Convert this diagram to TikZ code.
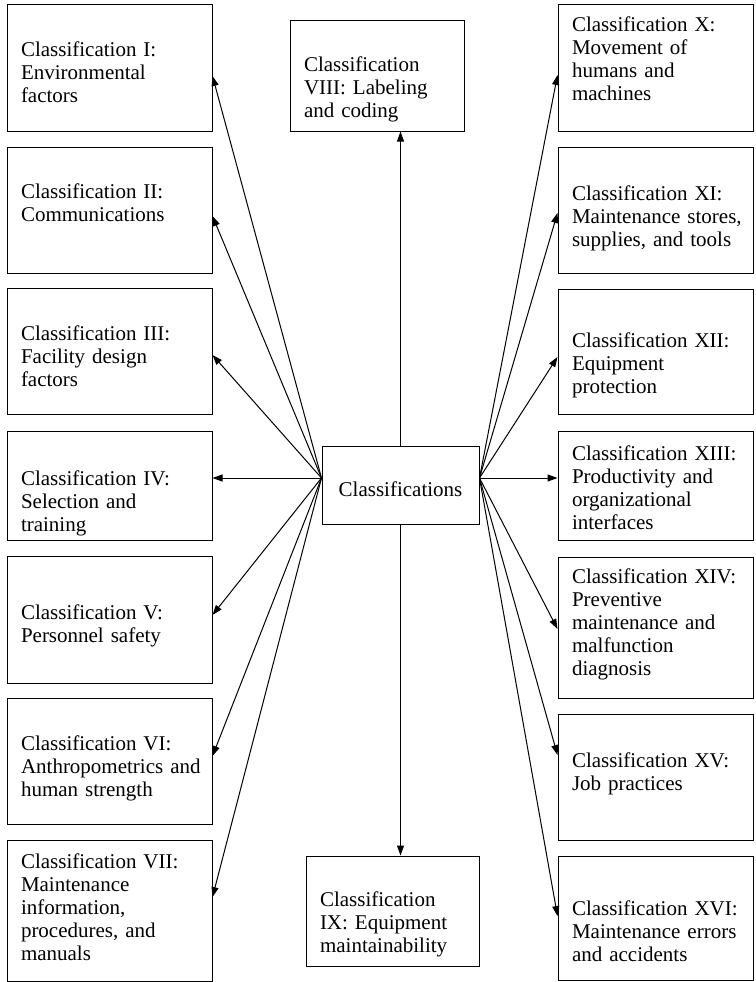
\documentclass[tikz,border=0pt]{standalone}
\usepackage{fontspec}
\setmainfont{Liberation Serif}
\usetikzlibrary{arrows.meta,calc}
\begin{document}
\begin{tikzpicture}[x=1pt,y=-1pt,
  box/.style={draw, line width=1pt, rectangle, inner xsep=14pt, inner ysep=0pt,
              align=left, font=\fontsize{21}{23}\selectfont},
  lbox/.style={box, minimum width=205pt, text width=177pt},
  rbox/.style={box, minimum width=195pt, text width=167pt},
  % fixed text height/depth place the first baseline inside the box
  tpos/.style 2 args={text height=#1pt, text depth=#2pt},
  link/.style={line width=1pt, -{Triangle[length=10pt,width=7pt]}}]
\useasboundingbox (0,0) rectangle (755,982);

% hub
\node[box, minimum width=157pt, minimum height=78pt, align=center, tpos={41.7}{18.3}] (c) at (400.5,485) {Classifications};

% left column
\node[lbox, minimum height=126pt, tpos={38.7}{61.3}] (b1) at (109.5,68)    {Classification I:\\Environmental\\factors};
\node[lbox, minimum height=126pt, tpos={38.5}{61.5}] (b2) at (109.5,210)   {Classification II:\\Communications};
\node[lbox, minimum height=126pt, tpos={39}{61}]     (b3) at (109.5,351)   {Classification III:\\Facility design\\factors};
\node[lbox, minimum height=109pt, tpos={50}{50}]     (b4) at (109.5,485.5) {Classification IV:\\Selection and\\training};
\node[lbox, minimum height=127pt, tpos={49.5}{50.5}] (b5) at (109.5,619.5) {Classification V:\\Personnel safety};
\node[lbox, minimum height=126pt, tpos={39}{61}]     (b6) at (109.5,761)   {Classification VI:\\Anthropometrics~and\\human strength};
\node[lbox, minimum height=141pt, tpos={7.5}{92.5}]  (b7) at (109.5,910.5) {Classification VII:\\Maintenance\\information,\\procedures, and\\manuals};

% middle column
\node[box, minimum width=174pt, minimum height=110pt, text width=146pt, tpos={45.7}{54.3}] (b8) at (377,76)    {Classification\\VIII: Labeling\\and coding};
\node[box, minimum width=173pt, minimum height=110pt, text width=145pt, tpos={45.7}{54.3}] (b9) at (392.5,911) {Classification\\IX: Equipment\\maintainability};

% right column
\node[rbox, minimum height=126pt, tpos={14}{86}]     (b10) at (655.5,68)    {Classification X:\\Movement of\\humans and\\machines};
\node[rbox, minimum height=126pt, tpos={40.7}{59.3}] (b11) at (655.5,210)   {Classification XI:\\Maintenance~stores,\\supplies, and tools};
\node[rbox, minimum height=125pt, tpos={45.8}{54.2}] (b12) at (655.5,351.5) {Classification XII:\\Equipment\\protection};
\node[rbox, minimum height=109pt, tpos={24.5}{75.5}] (b13) at (655.5,485.5) {Classification XIII:\\Productivity and\\organizational\\interfaces};
\node[rbox, minimum height=141pt, tpos={5.5}{94.5}]  (b14) at (655.5,627.5) {Classification XIV:\\Preventive\\maintenance and\\malfunction\\diagnosis};
\node[rbox, minimum height=126pt, tpos={40}{60}]     (b15) at (655.5,777)   {Classification XV:\\Job practices};
\node[rbox, minimum height=124pt, tpos={47}{53}]     (b16) at (655.5,918)   {Classification XVI:\\Maintenance errors\\and accidents};

% connectors fan out from two points on the hub's sides
\coordinate (hl) at ([yshift=7pt]c.west);
\coordinate (hr) at ([yshift=7pt]c.east);

\draw[link] (hl) -- ([yshift=-8pt]b1.east);
\draw[link] (hl) -- ([yshift=-6pt]b2.east);
\draw[link] (hl) -- ([yshift=-4pt]b3.east);
\draw[link] (hl) -- ([yshift=7.5pt]b4.east);
\draw[link] (hl) -- ([yshift=4.5pt]b5.east);
\draw[link] (hl) -- ([yshift=5pt]b6.east);
\draw[link] (hl) -- ([yshift=13.5pt]b7.east);

\draw[link] (hr) -- ([yshift=-7pt]b10.west);
\draw[link] (hr) -- ([yshift=-3pt]b11.west);
\draw[link] (hr) -- ([yshift=-5.5pt]b12.west);
\draw[link] (hr) -- ([yshift=7.5pt]b13.west);
\draw[link] (hr) -- ([yshift=-1.5pt]b14.west);
\draw[link] (hr) -- ([yshift=22pt]b15.west);
\draw[link] (hr) -- ([yshift=2pt]b16.west);

\draw[link] (c.north) -- (c.north |- b8.south);
\draw[link] (c.south) -- (c.south |- b9.north);
\end{tikzpicture}
\end{document}
